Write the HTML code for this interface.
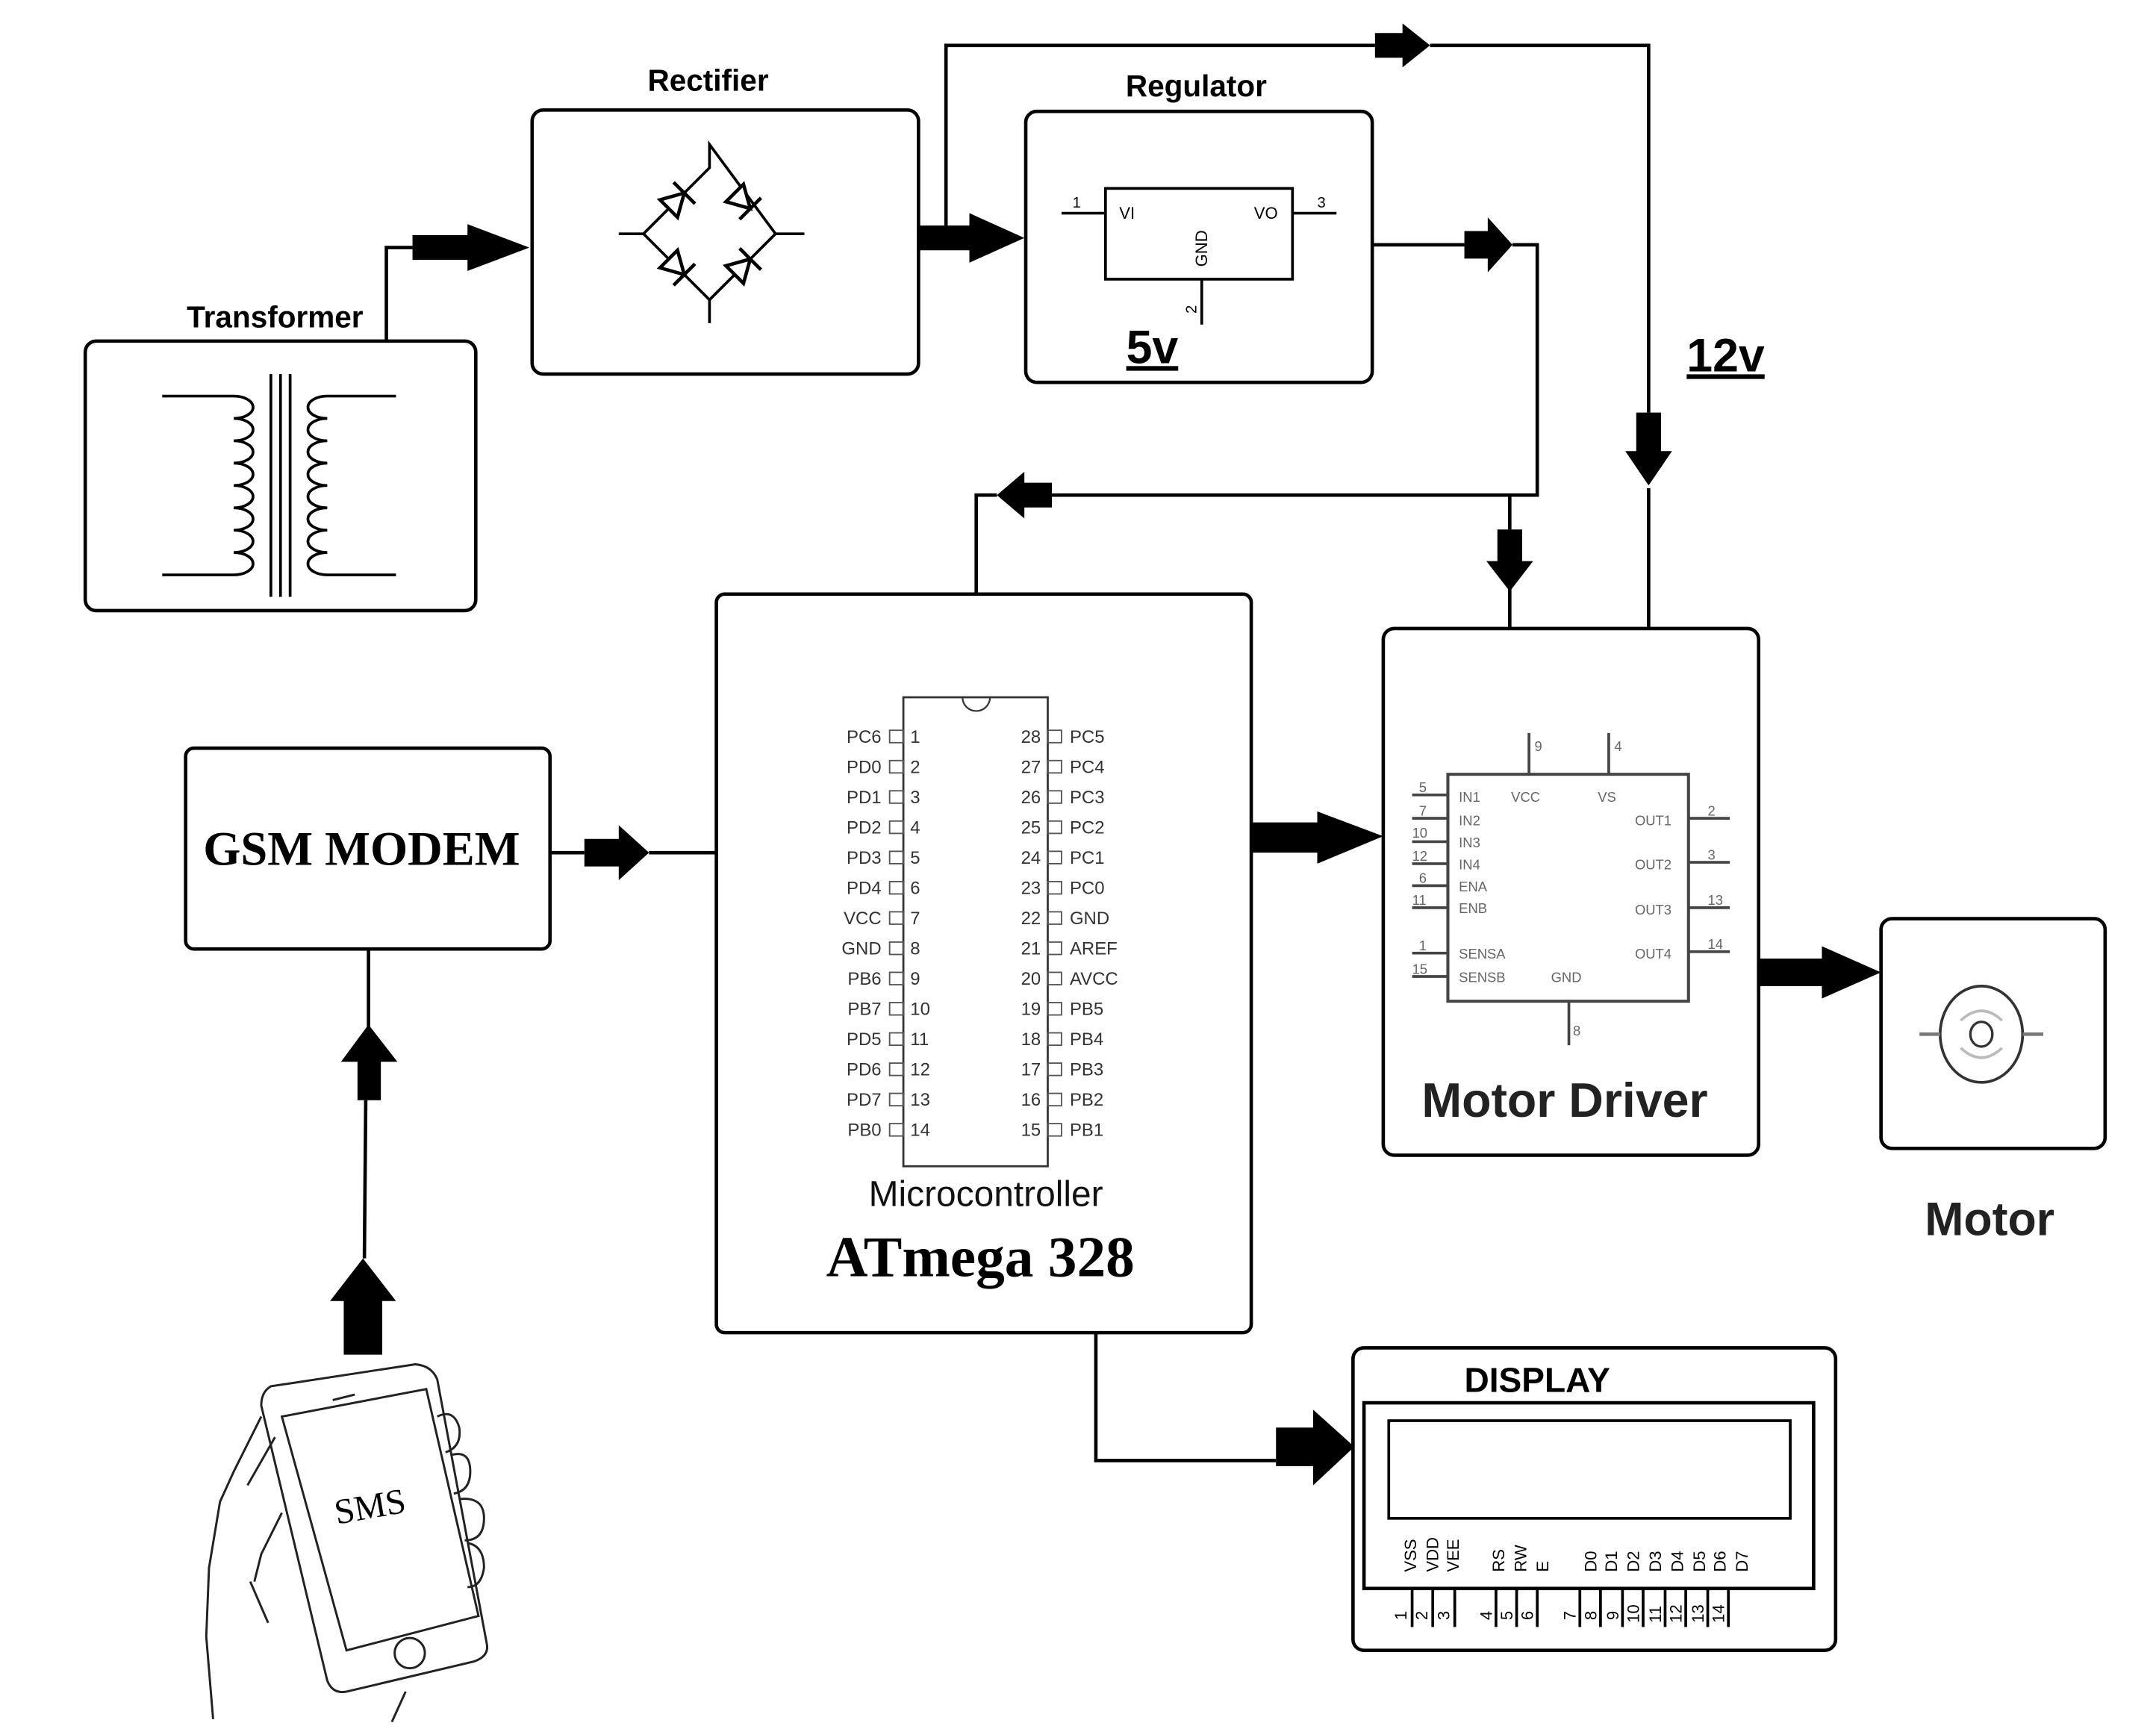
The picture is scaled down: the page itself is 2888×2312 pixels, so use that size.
<!DOCTYPE html>
<html><head><meta charset="utf-8"><style>
html,body{margin:0;padding:0;background:#fff;}
svg{display:block;}
text{font-family:"Liberation Sans",sans-serif;}
.b{font-weight:bold;}
.s{font-family:"Liberation Serif",serif;font-weight:bold;}
</style></head><body>
<svg width="2888" height="2312" viewBox="0 0 1568 1255" preserveAspectRatio="none" xmlns="http://www.w3.org/2000/svg">
<rect width="1568" height="1255" fill="#fff"/>
<g fill="none" stroke="#000" stroke-width="2.5">
<rect x="62" y="248" width="284" height="196" rx="8"/>
<rect x="387" y="80" width="281" height="192" rx="8"/>
<rect x="746" y="81" width="252" height="197" rx="8"/>
<rect x="521" y="432" width="389" height="537" rx="6"/>
<rect x="135" y="544" width="265" height="146" rx="6"/>
<rect x="1006" y="457" width="273" height="383" rx="8"/>
<rect x="1368" y="668" width="163" height="167" rx="8"/>
<rect x="984" y="980" width="351" height="220" rx="8"/>
<path d="M118,288 L170,288 a14,8.1 0 0 1 0,16.25 a14,8.1 0 0 1 0,16.25 a14,8.1 0 0 1 0,16.25 a14,8.1 0 0 1 0,16.25 a14,8.1 0 0 1 0,16.25 a14,8.1 0 0 1 0,16.25 a14,8.1 0 0 1 0,16.25 a14,8.1 0 0 1 0,16.25 L118,418" stroke-width="2"/>
<path d="M288,288 L238,288 a14,8.1 0 0 0 0,16.25 a14,8.1 0 0 0 0,16.25 a14,8.1 0 0 0 0,16.25 a14,8.1 0 0 0 0,16.25 a14,8.1 0 0 0 0,16.25 a14,8.1 0 0 0 0,16.25 a14,8.1 0 0 0 0,16.25 a14,8.1 0 0 0 0,16.25 L288,418" stroke-width="2"/>
<path d="M197,272V434 M204,272V434 M211,272V434" stroke-width="2"/>
<path d="M281,248V180H300"/>
<path d="M516,105V122 L468,170 L516,218 L564,170 Z M516,218V235 M450,170H468 M564,170H585" stroke-width="2"/>
<g stroke-width="2.5" fill="#fff">
<g transform="translate(492,146) rotate(-45)"><path d="M-8,-9 L-8,9 L8,0 Z M8,-11 V11"/></g>
<g transform="translate(540,146) rotate(45)"><path d="M-8,-9 L-8,9 L8,0 Z M8,-11 V11"/></g>
<g transform="translate(492,194) rotate(45)"><path d="M-8,-9 L-8,9 L8,0 Z M8,-11 V11"/></g>
<g transform="translate(540,194) rotate(-45)"><path d="M-8,-9 L-8,9 L8,0 Z M8,-11 V11"/></g>
</g>
<rect x="804" y="137" width="136" height="66" stroke-width="2"/>
<path d="M772,155H804 M940,155H972 M874,203V236" stroke-width="2"/>
<path d="M688,173V33H1000 M1040,33H1199V300 M1199,355V457"/>
<path d="M998,178H1065 M1100,178H1118V360H765 M725,360H710V432"/>
<path d="M1098,360V385 M1098,425V457"/>
<path d="M400,620H425 M472,620H521"/>
<path d="M268,690V770 M266,800L265,915"/>
<path d="M797,970V1062H928"/>
<rect x="657" y="507" width="105" height="341" stroke="#333" stroke-width="1.5"/>
<path d="M700,507 a10,10 0 0 0 20,0" stroke="#333" stroke-width="1.2"/>
<rect x="1053" y="563" width="175" height="165" stroke="#444" stroke-width="2.2"/>
<path d="M1112,533V563 M1170,533V563 M1141,728V760 M1027,578H1053 M1027,595H1053 M1027,612H1053 M1027,628H1053 M1027,644H1053 M1027,660H1053 M1027,693H1053 M1027,710H1053 M1228,595H1258 M1228,627H1258 M1228,660H1258 M1228,692H1258" stroke="#444" stroke-width="2"/>
<ellipse cx="1441" cy="752" rx="30" ry="35" stroke="#333" stroke-width="2"/>
<ellipse cx="1441" cy="752" rx="8" ry="9" stroke="#333" stroke-width="1.8"/>
<path d="M1426,742 q15,-14 30,0 M1426,762 q15,14 30,0" stroke="#bbb" stroke-width="2"/>
<path d="M1396,752H1411 M1471,752H1486" stroke="#777" stroke-width="2.5"/>
<rect x="992" y="1020" width="327" height="135" stroke-width="2.5"/>
<rect x="1010" y="1033" width="292" height="71" stroke-width="2"/>
<path d="M1027,1155V1183 M1042,1155V1183 M1058,1155V1183 M1088,1155V1183 M1103,1155V1183 M1118,1155V1183 M1149,1155V1183 M1164,1155V1183 M1180,1155V1183 M1195,1155V1183 M1211,1155V1183 M1226,1155V1183 M1242,1155V1183 M1257,1155V1183" stroke-width="2"/>
<g stroke-width="1.6" stroke="#222">
<path d="M197,1008 Q190,1012 190,1022 L238,1222 Q242,1232 252,1230 L345,1208 Q356,1204 354,1195 L318,1003 Q314,993 302,992 Z"/>
<path d="M205,1030 L310,1010 L348,1175 L252,1200 Z"/>
<circle cx="298" cy="1202" r="11"/>
<path d="M242,1018 L258,1014"/>
<path d="M318,1030 q12,-6 16,8 q2,14 -10,18 M328,1058 q14,-4 14,12 q0,14 -12,16 M334,1090 q18,-2 18,14 q0,16 -14,16 M340,1122 q12,2 12,18 q-2,14 -12,14"/>
<path d="M190,1030 L170,1070 L160,1092 L152,1140 L150,1190 L155,1250 M200,1045 L180,1080 M205,1100 L190,1130 L185,1150 M182,1150 L195,1180 M295,1230 L285,1252"/>
</g>
</g>
<g fill="#000">
<path d="M300,171H340V163L385,180L340,197V189H300Z"/>
<path d="M668,164H705V155L745,173L705,191V182H668Z"/>
<path d="M1000,24H1020V17L1040,33L1020,49V42H1000Z"/>
<path d="M1065,168H1082V158L1100,178L1082,198V188H1065Z"/>
<path d="M765,351H745V343L725,360L745,377V369H765Z"/>
<path d="M1089,385H1107V408H1115L1098,430L1081,408H1089Z"/>
<path d="M1190,300H1208V328H1216L1199,353L1182,328H1190Z"/>
<path d="M425,610H450V600L472,620L450,640V630H425Z"/>
<path d="M910,598H958V590L1006,608L958,628V620H910Z"/>
<path d="M1279,697H1325V688L1368,707L1325,726V717H1279Z"/>
<path d="M928,1038H955V1025L985,1052L955,1080V1066H928Z"/>
<path d="M260,800H277V772H289L268,745L248,772H260Z"/>
<path d="M250,985H278V946H288L264,915L240,946H250Z"/>
</g>
<text x="200" y="238" font-size="22" class="b" text-anchor="middle">Transformer</text>
<text x="515" y="66" font-size="22" class="b" text-anchor="middle">Rectifier</text>
<text x="870" y="70" font-size="22" class="b" text-anchor="middle">Regulator</text>
<text x="780" y="151" font-size="11">1</text>
<text x="958" y="151" font-size="11">3</text>
<text x="814" y="159" font-size="12">VI</text>
<text x="912" y="159" font-size="12">VO</text>
<text font-size="12" transform="translate(878,194) rotate(-90)">GND</text>
<text font-size="11" transform="translate(870,228) rotate(-90)">2</text>
<text x="838" y="264" font-size="34" class="b" text-anchor="middle" text-decoration="underline">5v</text>
<text x="1255" y="270" font-size="34" class="b" text-anchor="middle" text-decoration="underline">12v</text>
<text x="263" y="629" font-size="35" class="s" text-anchor="middle">GSM MODEM</text>
<g font-size="13" fill="#333">
<g text-anchor="end">
<text x="641" y="540">PC6</text><text x="641" y="562">PD0</text><text x="641" y="584">PD1</text><text x="641" y="606">PD2</text><text x="641" y="628">PD3</text><text x="641" y="650">PD4</text><text x="641" y="672">VCC</text><text x="641" y="694">GND</text><text x="641" y="716">PB6</text><text x="641" y="738">PB7</text><text x="641" y="760">PD5</text><text x="641" y="782">PD6</text><text x="641" y="804">PD7</text><text x="641" y="826">PB0</text>
<text x="757" y="540">28</text><text x="757" y="562">27</text><text x="757" y="584">26</text><text x="757" y="606">25</text><text x="757" y="628">24</text><text x="757" y="650">23</text><text x="757" y="672">22</text><text x="757" y="694">21</text><text x="757" y="716">20</text><text x="757" y="738">19</text><text x="757" y="760">18</text><text x="757" y="782">17</text><text x="757" y="804">16</text><text x="757" y="826">15</text>
</g>
<text x="662" y="540">1</text><text x="662" y="562">2</text><text x="662" y="584">3</text><text x="662" y="606">4</text><text x="662" y="628">5</text><text x="662" y="650">6</text><text x="662" y="672">7</text><text x="662" y="694">8</text><text x="662" y="716">9</text><text x="662" y="738">10</text><text x="662" y="760">11</text><text x="662" y="782">12</text><text x="662" y="804">13</text><text x="662" y="826">14</text>
<text x="778" y="540">PC5</text><text x="778" y="562">PC4</text><text x="778" y="584">PC3</text><text x="778" y="606">PC2</text><text x="778" y="628">PC1</text><text x="778" y="650">PC0</text><text x="778" y="672">GND</text><text x="778" y="694">AREF</text><text x="778" y="716">AVCC</text><text x="778" y="738">PB5</text><text x="778" y="760">PB4</text><text x="778" y="782">PB3</text><text x="778" y="804">PB2</text><text x="778" y="826">PB1</text>
</g>
<g fill="none" stroke="#555" stroke-width="1">
<rect x="647" y="531" width="10" height="9"/><rect x="647" y="553" width="10" height="9"/><rect x="647" y="575" width="10" height="9"/><rect x="647" y="597" width="10" height="9"/><rect x="647" y="619" width="10" height="9"/><rect x="647" y="641" width="10" height="9"/><rect x="647" y="663" width="10" height="9"/><rect x="647" y="685" width="10" height="9"/><rect x="647" y="707" width="10" height="9"/><rect x="647" y="729" width="10" height="9"/><rect x="647" y="751" width="10" height="9"/><rect x="647" y="773" width="10" height="9"/><rect x="647" y="795" width="10" height="9"/><rect x="647" y="817" width="10" height="9"/>
<rect x="762" y="531" width="10" height="9"/><rect x="762" y="553" width="10" height="9"/><rect x="762" y="575" width="10" height="9"/><rect x="762" y="597" width="10" height="9"/><rect x="762" y="619" width="10" height="9"/><rect x="762" y="641" width="10" height="9"/><rect x="762" y="663" width="10" height="9"/><rect x="762" y="685" width="10" height="9"/><rect x="762" y="707" width="10" height="9"/><rect x="762" y="729" width="10" height="9"/><rect x="762" y="751" width="10" height="9"/><rect x="762" y="773" width="10" height="9"/><rect x="762" y="795" width="10" height="9"/><rect x="762" y="817" width="10" height="9"/>
</g>
<text x="717" y="877" font-size="26" text-anchor="middle" fill="#111">Microcontroller</text>
<text x="713" y="928" font-size="42" class="s" text-anchor="middle">ATmega 328</text>
<g font-size="10" fill="#666">
<text x="1061" y="583">IN1</text><text x="1061" y="600">IN2</text><text x="1061" y="616">IN3</text><text x="1061" y="632">IN4</text><text x="1061" y="648">ENA</text><text x="1061" y="664">ENB</text><text x="1061" y="697">SENSA</text><text x="1061" y="714">SENSB</text>
<text x="1099" y="583">VCC</text><text x="1162" y="583">VS</text><text x="1128" y="714">GND</text>
<text x="1189" y="600">OUT1</text><text x="1189" y="632">OUT2</text><text x="1189" y="665">OUT3</text><text x="1189" y="697">OUT4</text>
<text x="1116" y="546">9</text><text x="1174" y="546">4</text><text x="1144" y="753">8</text>
<text x="1032" y="576">5</text><text x="1032" y="593">7</text><text x="1027" y="609">10</text><text x="1027" y="626">12</text><text x="1032" y="642">6</text><text x="1027" y="658">11</text><text x="1032" y="691">1</text><text x="1027" y="708">15</text>
<text x="1242" y="593">2</text><text x="1242" y="625">3</text><text x="1242" y="658">13</text><text x="1242" y="690">14</text>
</g>
<text x="1138" y="812" font-size="35" class="b" text-anchor="middle" fill="#222">Motor Driver</text>
<text x="1447" y="898" font-size="34" class="b" text-anchor="middle" fill="#222">Motor</text>
<text x="1118" y="1012" font-size="25" class="b" text-anchor="middle">DISPLAY</text>
<g font-size="12">
<text transform="translate(1030,1143) rotate(-90)">VSS</text>
<text transform="translate(1046,1143) rotate(-90)">VDD</text>
<text transform="translate(1061,1143) rotate(-90)">VEE</text>
<text transform="translate(1094,1143) rotate(-90)">RS</text>
<text transform="translate(1110,1143) rotate(-90)">RW</text>
<text transform="translate(1126,1143) rotate(-90)">E</text>
<text transform="translate(1161,1143) rotate(-90)">D0</text>
<text transform="translate(1176,1143) rotate(-90)">D1</text>
<text transform="translate(1192,1143) rotate(-90)">D2</text>
<text transform="translate(1208,1143) rotate(-90)">D3</text>
<text transform="translate(1224,1143) rotate(-90)">D4</text>
<text transform="translate(1240,1143) rotate(-90)">D5</text>
<text transform="translate(1255,1143) rotate(-90)">D6</text>
<text transform="translate(1271,1143) rotate(-90)">D7</text>
<text transform="translate(1023,1178) rotate(-90)">1</text>
<text transform="translate(1038,1178) rotate(-90)">2</text>
<text transform="translate(1054,1178) rotate(-90)">3</text>
<text transform="translate(1085,1178) rotate(-90)">4</text>
<text transform="translate(1100,1178) rotate(-90)">5</text>
<text transform="translate(1115,1178) rotate(-90)">6</text>
<text transform="translate(1146,1178) rotate(-90)">7</text>
<text transform="translate(1161,1178) rotate(-90)">8</text>
<text transform="translate(1177,1178) rotate(-90)">9</text>
<text transform="translate(1192,1180) rotate(-90)">10</text>
<text transform="translate(1208,1180) rotate(-90)">11</text>
<text transform="translate(1223,1180) rotate(-90)">12</text>
<text transform="translate(1239,1180) rotate(-90)">13</text>
<text transform="translate(1254,1180) rotate(-90)">14</text>
</g>
<text x="269" y="1104" font-size="26" text-anchor="middle" transform="rotate(-10 269 1095)" style="font-family:'Liberation Serif',serif">SMS</text>
</svg>
</body></html>
